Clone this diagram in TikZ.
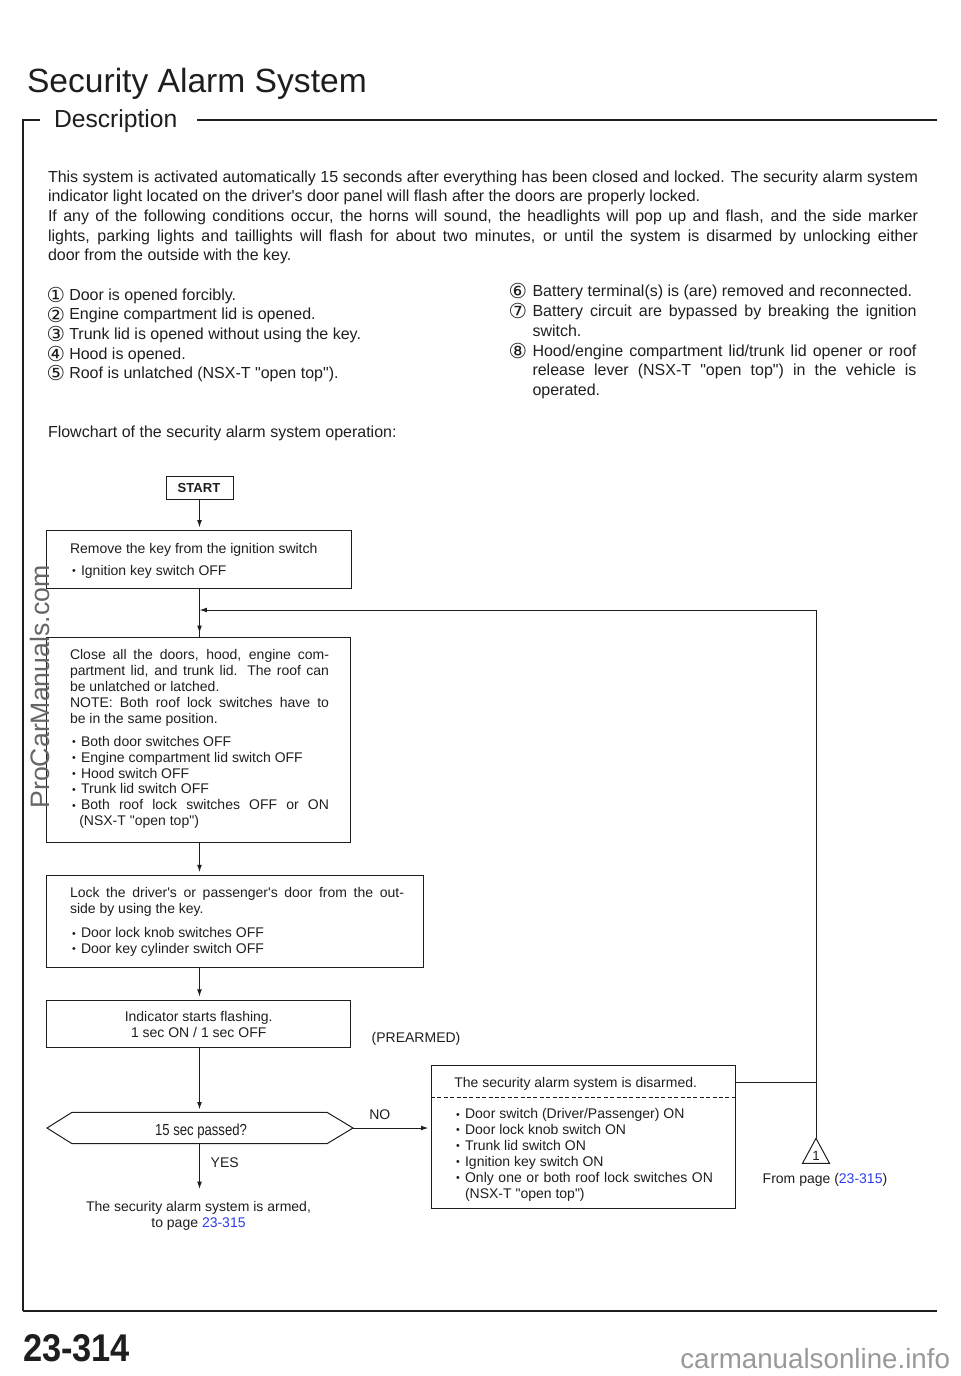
\documentclass[tikz,border=0pt]{standalone}
\usepackage{fontspec}
\setmainfont{Liberation Sans}[Ligatures=TeXOff]
\newfontfamily\djv{DejaVu Sans}
\usetikzlibrary{arrows.meta}
\definecolor{ink}{RGB}{30,30,30}
\definecolor{linkblue}{RGB}{45,60,235}
\newcommand\fbody{\fontsize{12pt}{14pt}\selectfont}
\newcommand\fflow{\fontsize{10.5pt}{12pt}\selectfont}
\newcommand\jl[2]{\makebox[#1][s]{#2}}
\newcommand\bul{\raisebox{0.6pt}{\fontsize{8pt}{8pt}\selectfont •}\hspace{4pt}}
\newcommand\cn[1]{\raisebox{-1.8pt}{\djv\fontsize{15.5pt}{16pt}\selectfont #1}}
\newcommand\bx[5]{\node[box,minimum width={(#4-#2)*0.75pt},minimum height={(#5-#3)*0.75pt}] (#1) at (#2,#3) {};}
\begin{document}
\begin{tikzpicture}[x=0.75pt,y=-0.75pt,
  box/.style={draw=ink,line width=0.75pt,inner sep=0pt,outer sep=0pt,anchor=north west},
  tl/.style={anchor=base west,inner sep=0pt,outer sep=0pt,text=ink},
  tc/.style={anchor=base,inner sep=0pt,outer sep=0pt,text=ink},
  body/.style={tl,font=\fbody},
  flow/.style={tl,font=\fflow},
  flowc/.style={tc,font=\fflow},
  ln/.style={draw=ink,line width=0.75pt},
  arr/.style={ln,-{Latex[length=5.5pt,width=3.6pt]}},
  frame/.style={draw=ink,line width=1.1pt},
]
\useasboundingbox (0,0) rectangle (960,1376);

% heading and frame
\node[tl,font=\fontsize{25.2pt}{28pt}\selectfont] (title) at (27,92.5) {Security Alarm System};
\node[tl,font=\fontsize{18.5pt}{22pt}\selectfont] (desc) at (54,128) {Description};
\draw[frame] (40,120) -- (23,120) -- (23,1311);
\draw[frame] (197,120) -- (937,120);
\draw[draw=ink,line width=1.5pt] (22.5,1311) -- (937,1311);

% body text
\node[body] (p1) at (48,182.5) {\jl{652.5pt}{This system is activated automatically 15 seconds after everything has been closed and locked. The security alarm system}};
\node[body] (p2) at (48,202) {indicator light located on the driver's door panel will flash after the doors are properly locked.};
\node[body] (p3) at (48,222) {\jl{652.5pt}{If any of the following conditions occur, the horns will sound, the headlights will pop up and flash, and the side marker}};
\node[body] (p4) at (48,241.5) {\jl{652.5pt}{lights, parking lights and taillights will flash for about two minutes, or until the system is disarmed by unlocking either}};
\node[body] (p5) at (48,261) {door from the outside with the key.};

% left list
\node[body] (c1) at (46.5,300.5) {\cn{①}};
\node[body] (l1) at (69.3,300.5) {Door is opened forcibly.};
\node[body] (c2) at (46.5,320) {\cn{②}};
\node[body] (l2) at (69.3,320) {Engine compartment lid is opened.};
\node[body] (c3) at (46.5,339.5) {\cn{③}};
\node[body] (l3) at (69.3,339.5) {Trunk lid is opened without using the key.};
\node[body] (c4) at (46.5,359) {\cn{④}};
\node[body] (l4) at (69.3,359) {Hood is opened.};
\node[body] (c5) at (46.5,378.5) {\cn{⑤}};
\node[body] (l5) at (69.3,378.5) {Roof is unlatched (NSX-T "open top").};

% right list
\node[body] (c6) at (508.5,296.5) {\cn{⑥}};
\node[body] (r1) at (532.5,296.5) {Battery terminal(s) is (are) removed and reconnected.};
\node[body] (c7) at (508.5,316.5) {\cn{⑦}};
\node[body] (r2) at (532.5,316.5) {\jl{288pt}{Battery circuit are bypassed by breaking the ignition}};
\node[body] (r3) at (532.5,336) {switch.};
\node[body] (c8) at (508.5,356) {\cn{⑧}};
\node[body] (r4) at (532.5,356) {\jl{288pt}{Hood/engine compartment lid/trunk lid opener or roof}};
\node[body] (r5) at (532.5,375.5) {\jl{288pt}{release lever (NSX-T "open top") in the vehicle is}};
\node[body] (r6) at (532.5,395.5) {operated.};

\node[body] (fc) at (48,437) {Flowchart of the security alarm system operation:};

% boxes
\bx{start}{166}{476}{233}{499}
\bx{b1}{46}{530.5}{351.5}{588}
\bx{b2}{46}{637}{350.5}{842.5}
\bx{b3}{46.5}{875.5}{423.5}{967}
\bx{b4}{46.5}{1000}{350}{1047}
\bx{b5}{431}{1065}{735.5}{1208}
\draw[ln,dash pattern=on 3pt off 1.8pt] (431,1097.5) -- (735.5,1097.5);

% hexagon decision
\coordinate (hexT) at (199.5,1112.3);
\coordinate (hexB) at (199.5,1143.7);
\coordinate (hexR) at (353,1128);
\coordinate (yesEnd) at (199.5,1189);
\draw[ln] (47,1128) -- (72,1112.3) -- (327,1112.3) -- (hexR) -- (327,1143.7) -- (72,1143.7) -- cycle;
\node[tc,font=\fontsize{12pt}{13pt}\selectfont,xscale=0.82] (q) at (201,1135) {15 sec passed?};

% triangle marker
\coordinate (triT) at (816,1138.3);
\draw[ln] (triT) -- (829.5,1163.3) -- (802.5,1163.3) -- cycle;
\node[tc,font=\fontsize{10pt}{11pt}\selectfont] (one) at (816,1160.5) {1};

% box texts
\node[tc,font=\fontsize{9.8pt}{11pt}\selectfont\bfseries] (startt) at (199,492.8) {START};

\node[flow] (b1a) at (70,553) {Remove the key from the ignition switch};
\node[flow] (b1b) at (72,575.7) {\bul Ignition key switch OFF};

\node[flow] (b2a) at (70,659) {\jl{194.25pt}{Close all the doors, hood, engine com-}};
\node[flow] (b2b) at (70,675) {\jl{194.25pt}{partment lid, and trunk lid. The roof can}};
\node[flow] (b2c) at (70,691) {be unlatched or latched.};
\node[flow] (b2d) at (70,707) {\jl{194.25pt}{NOTE: Both roof lock switches have to}};
\node[flow] (b2e) at (70,723) {be in the same position.};
\node[flow] (b2f) at (72,746.2) {\bul Both door switches OFF};
\node[flow] (b2g) at (72,762.2) {\bul Engine compartment lid switch OFF};
\node[flow] (b2h) at (72,778.2) {\bul Hood switch OFF};
\node[flow] (b2i) at (72,793.8) {\bul Trunk lid switch OFF};
\node[flow] (b2j) at (72,809.8) {\jl{192.75pt}{\bul Both roof lock switches OFF or ON}};
\node[flow] (b2k) at (79.3,825.5) {(NSX-T "open top")};

\node[flow] (b3a) at (70,897.8) {\jl{250.5pt}{Lock the driver's or passenger's door from the out-}};
\node[flow] (b3b) at (70,913.8) {side by using the key.};
\node[flow] (b3c) at (72,937.8) {\bul Door lock knob switches OFF};
\node[flow] (b3d) at (72,953.2) {\bul Door key cylinder switch OFF};

\node[flowc] (b4a) at (198.7,1021.8) {Indicator starts flashing.};
\node[flowc] (b4b) at (198.7,1037.2) {1 sec ON / 1 sec OFF};
\node[flow] (pre) at (371.7,1042.2) {(PREARMED)};

\node[flow] (no) at (369.3,1119.8) {NO};
\node[flow] (yes) at (210.7,1167.8) {YES};
\node[flowc] (arm1) at (198.5,1211.2) {The security alarm system is armed,};
\node[flowc] (arm2) at (198.5,1227.2) {to page \textcolor{linkblue}{23-315}};

\node[flow] (b5a) at (454.3,1087.2) {The security alarm system is disarmed.};
\node[flow] (b5b) at (456,1118.8) {\bul Door switch (Driver/Passenger) ON};
\node[flow] (b5c) at (456,1134.5) {\bul Door lock knob switch ON};
\node[flow] (b5d) at (456,1150.5) {\bul Trunk lid switch ON};
\node[flow] (b5e) at (456,1166.5) {\bul Ignition key switch ON};
\node[flow] (b5f) at (456,1182.5) {\jl{192.75pt}{\bul Only one or both roof lock switches ON}};
\node[flow] (b5g) at (465,1198.5) {(NSX-T "open top")};

\node[flow] (from) at (762.7,1183.2) {From page (\textcolor{linkblue}{23-315})};

% connectors
\coordinate (j1) at (199.5,610);
\coordinate (j3) at (816,610);
\coordinate (j2) at (816,1082.3);
\draw[arr,shorten >=2.3pt] (start.south) -- (start.south |- b1.north);
\draw[ln] (start.south |- b1.south) -- (start.south |- b2.north);
\draw[arr,shorten >=3pt] (j1) -- (start.south |- b2.north);
\draw[arr,shorten >=2.5pt] (start.south |- b2.south) -- (start.south |- b3.north);
\draw[arr,shorten >=2.5pt] (start.south |- b3.south) -- (start.south |- b4.north);
\draw[arr,shorten >=2.2pt] (hexT |- b4.south) -- (hexT);
\draw[arr] (hexB) -- (yesEnd);
\draw[arr,shorten >=2pt] (hexR) -- (hexR -| b5.west);
\draw[ln] (b5.east |- j2) -- (j2);
\draw[arr] (triT) -- (j3) -- (j1);

% page number and watermarks
\node[tl,font=\fontsize{29pt}{32pt}\selectfont\bfseries,xscale=0.89] (pg) at (23,1361) {23-314};
\node[anchor=base west,inner sep=0pt,text=black!40,font=\fontsize{20.8pt}{22pt}\selectfont] (wm2) at (680,1368) {carmanualsonline.info};
\node[anchor=center,inner sep=0pt,text=black!60,rotate=90,font=\fontsize{20pt}{22pt}\selectfont] (wm1) at (40,687) {ProCarManuals.com};
\end{tikzpicture}
\end{document}
